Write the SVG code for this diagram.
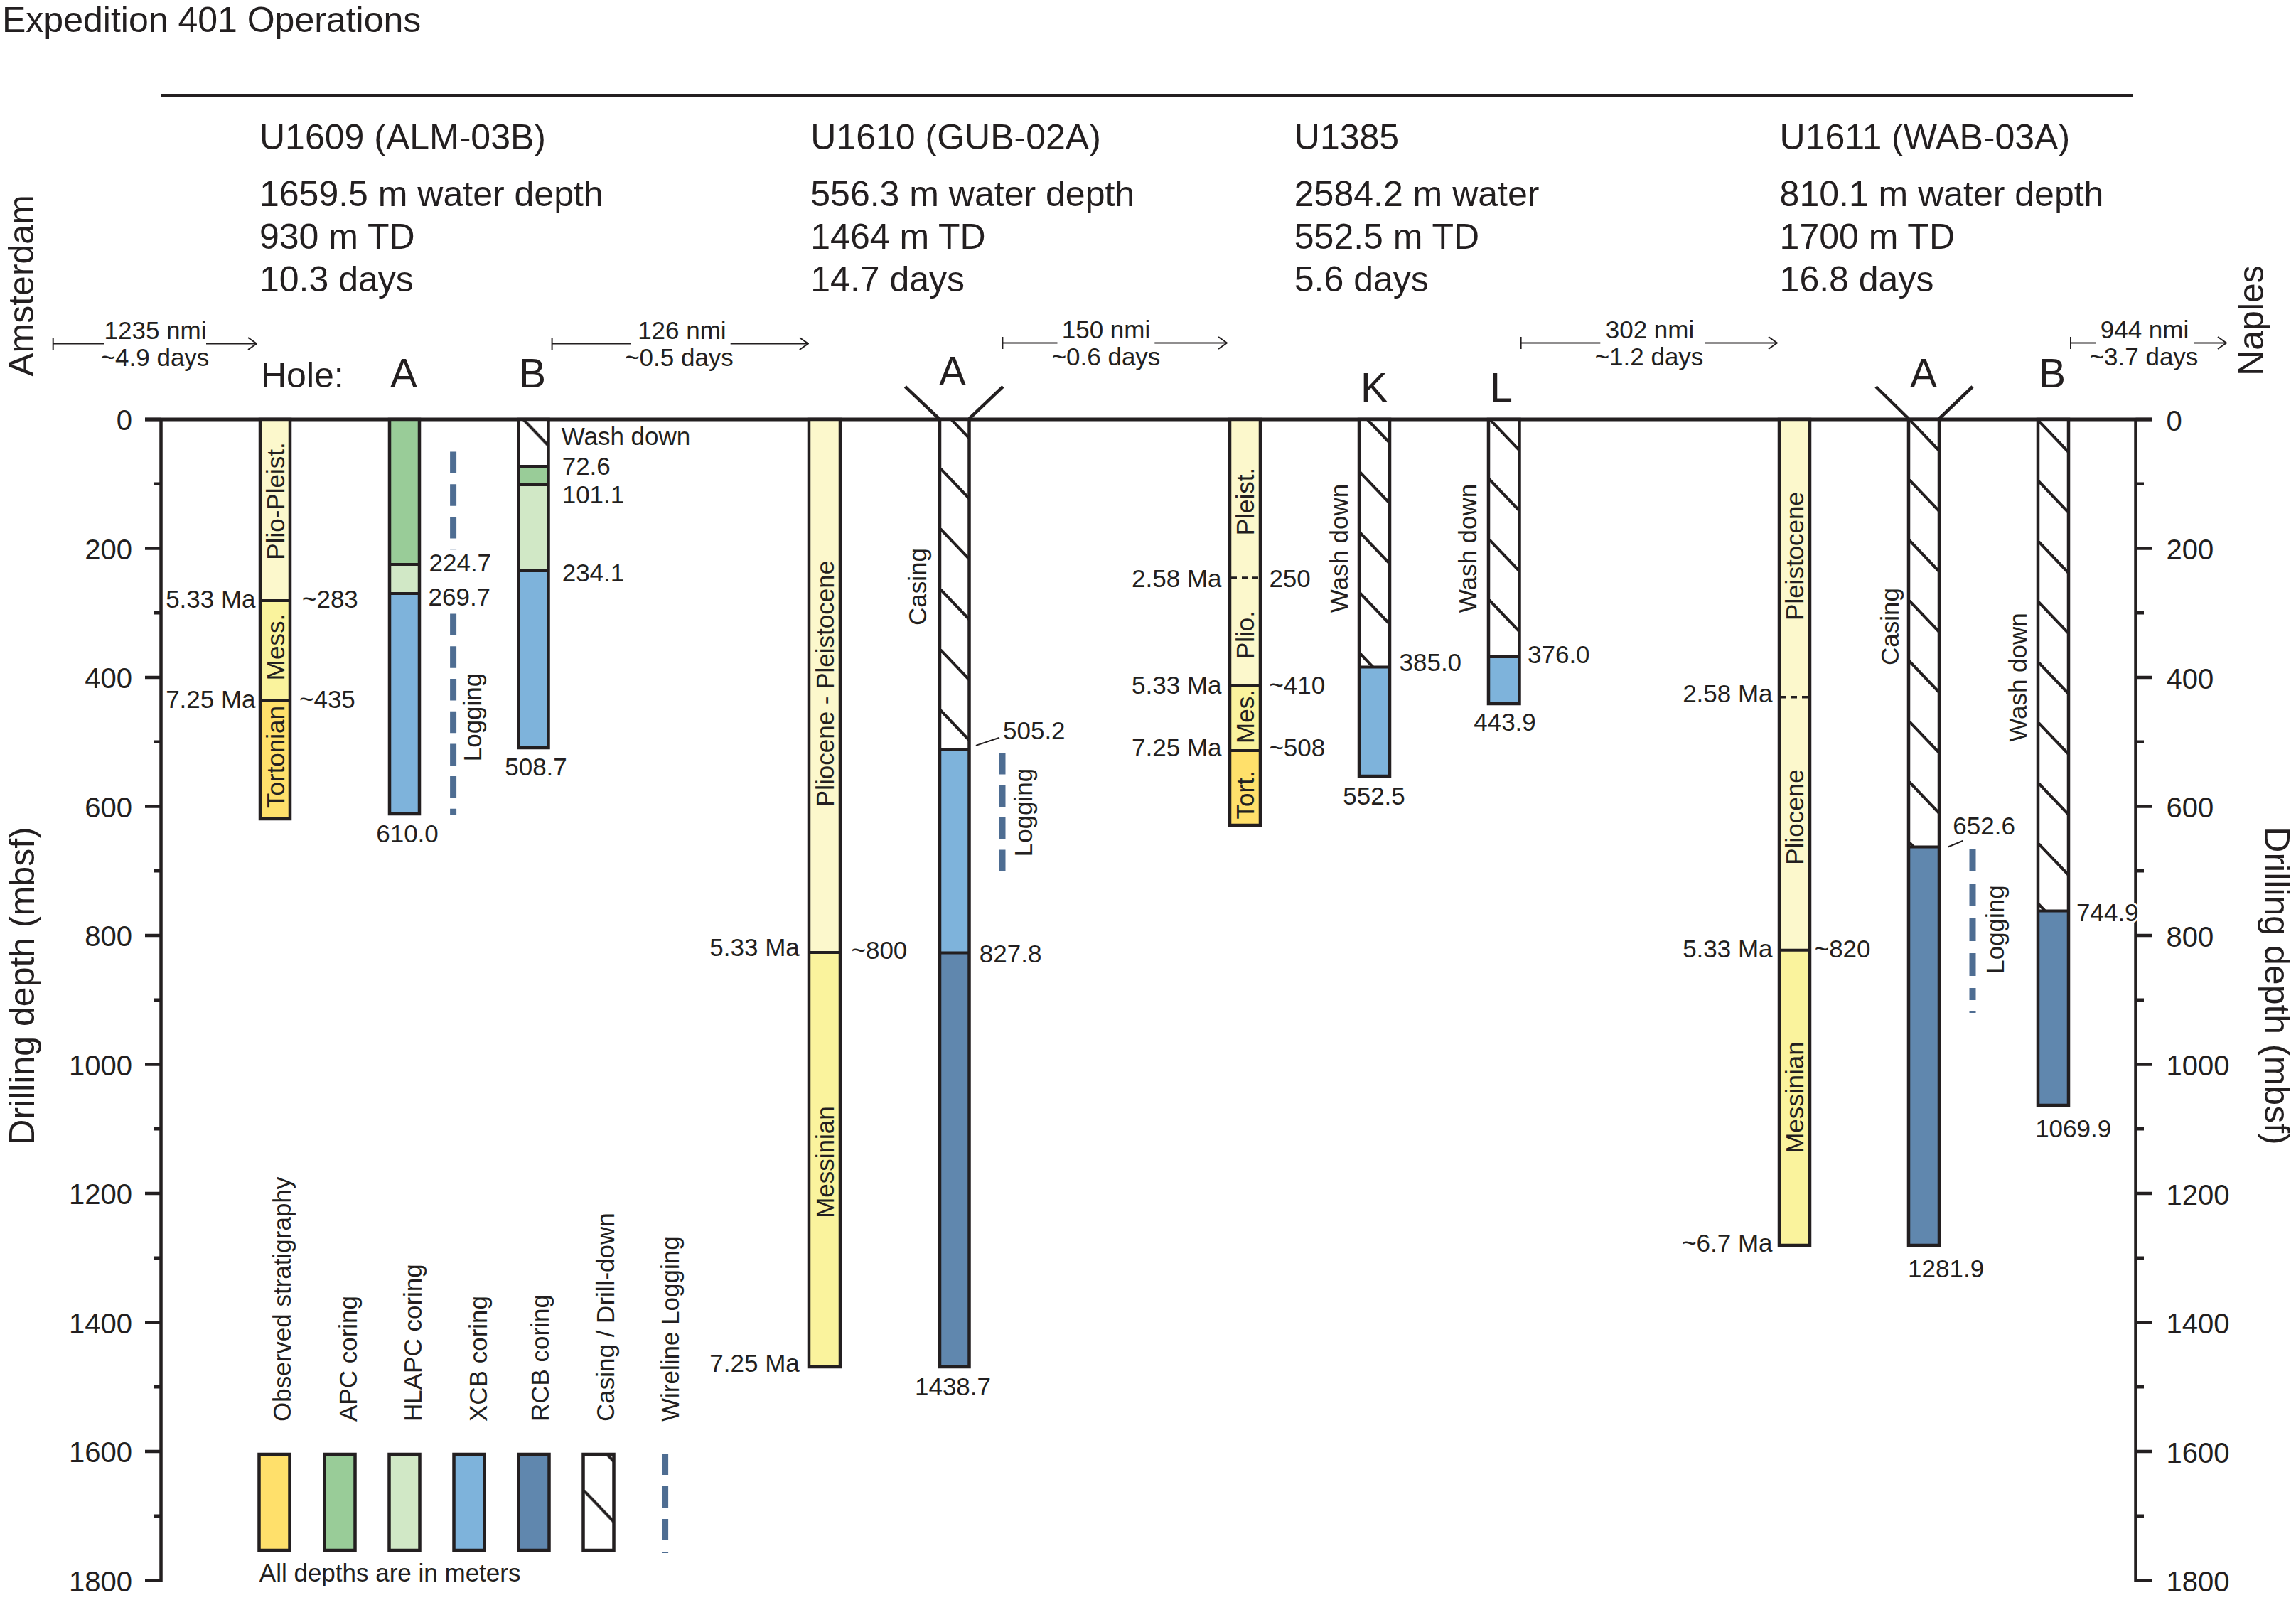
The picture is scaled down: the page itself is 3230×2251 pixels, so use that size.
<svg xmlns="http://www.w3.org/2000/svg" xmlns:xlink="http://www.w3.org/1999/xlink" width="3230" height="2251" viewBox="0 0 3230 2251">
<style>
text{font-family:"Liberation Sans",Arial,Helvetica,sans-serif;fill:#231f20}
.f50{font-size:50px}
.f57{font-size:57px}
.f40{font-size:40px}
.f35{font-size:35px}
.m{text-anchor:middle}
.e{text-anchor:end}
.ln{stroke:#231f20;stroke-width:4.5;fill:none}
.thin{stroke:#231f20;stroke-width:2;fill:none}
.col{stroke:#231f20;stroke-width:4.5;fill:none}
.bd{stroke:#231f20;stroke-width:4}
.dsh{stroke:#231f20;stroke-width:3.5;stroke-dasharray:8 7}
.log{stroke:#4e6d92;stroke-width:9;fill:none}
.pp{fill:#fcf8cc}.me{fill:#faf39d}.to{fill:#ffe06b}.apc{fill:#99cc98}.hl{fill:#d1e8c6}.xcb{fill:#7eb3db}.rcb{fill:#6087ae}
</style>
<defs>
<marker id="arr" markerUnits="userSpaceOnUse" markerWidth="14" markerHeight="20" viewBox="0 0 14 20" refX="13" refY="10" orient="auto"><path d="M1,1.5 L13,10 L1,18.5" fill="none" stroke="#231f20" stroke-width="2"/></marker>
<pattern id="hatch" patternUnits="userSpaceOnUse" width="200" height="85"><rect width="200" height="85" fill="#fff"/><line x1="0" y1="0" x2="43" y2="45" stroke="#231f20" stroke-width="4"/></pattern>
<pattern id="h1" xlink:href="#hatch" x="729.5" y="583"/>
<pattern id="h2" xlink:href="#hatch" x="1322" y="573"/>
<pattern id="h3" xlink:href="#hatch" x="1912" y="578"/>
<pattern id="h4" xlink:href="#hatch" x="2094" y="588"/>
<pattern id="h5" xlink:href="#hatch" x="2685" y="589"/>
<pattern id="h6" xlink:href="#hatch" x="2867" y="591"/>
<pattern id="h7" xlink:href="#hatch" x="820.5" y="2011"/>
</defs>
<rect width="3230" height="2251" fill="#fff"/>

<g id="title"><text class="f50" x="3" y="45">Expedition 401 Operations</text></g>

<g id="frame">
<line class="ln" x1="226" y1="134.5" x2="3001" y2="134.5" style="stroke-width:5"/>
<line class="ln" x1="204" y1="590" x2="3027" y2="590" style="stroke-width:5"/>
</g>

<g id="axis-left">
<line class="ln" x1="226.5" y1="590" x2="226.5" y2="2225"/>
<path class="ln" d="M204,590H226.5M216.5,680.75H226.5M204,771.5H226.5M216.5,862.25H226.5M204,953H226.5M216.5,1043.75H226.5M204,1134.5H226.5M216.5,1225.25H226.5M204,1316H226.5M216.5,1406.75H226.5M204,1497.5H226.5M216.5,1588.25H226.5M204,1679H226.5M216.5,1769.75H226.5M204,1860.5H226.5M216.5,1951.25H226.5M204,2042H226.5M216.5,2132.75H226.5M204,2223.5H226.5"/>
<text class="f40 e" x="186" y="605">0</text>
<text class="f40 e" x="186" y="786.5">200</text>
<text class="f40 e" x="186" y="968">400</text>
<text class="f40 e" x="186" y="1149.5">600</text>
<text class="f40 e" x="186" y="1331">800</text>
<text class="f40 e" x="186" y="1512.5">1000</text>
<text class="f40 e" x="186" y="1694">1200</text>
<text class="f40 e" x="186" y="1875.5">1400</text>
<text class="f40 e" x="186" y="2057">1600</text>
<text class="f40 e" x="186" y="2238.5">1800</text>
<text class="f50 m" transform="translate(48,1387) rotate(-90)">Drilling depth (mbsf)</text>
</g>

<g id="axis-right">
<line class="ln" x1="3004.5" y1="590" x2="3004.5" y2="2225"/>
<path class="ln" d="M3004.5,590H3027M3004.5,680.75H3016M3004.5,771.5H3027M3004.5,862.25H3016M3004.5,953H3027M3004.5,1043.75H3016M3004.5,1134.5H3027M3004.5,1225.25H3016M3004.5,1316H3027M3004.5,1406.75H3016M3004.5,1497.5H3027M3004.5,1588.25H3016M3004.5,1679H3027M3004.5,1769.75H3016M3004.5,1860.5H3027M3004.5,1951.25H3016M3004.5,2042H3027M3004.5,2132.75H3016M3004.5,2223.5H3027"/>
<text class="f40" x="3047.6" y="606">0</text>
<text class="f40" x="3047.6" y="787">200</text>
<text class="f40" x="3047.6" y="968.5">400</text>
<text class="f40" x="3047.6" y="1150">600</text>
<text class="f40" x="3047.6" y="1331.5">800</text>
<text class="f40" x="3047.6" y="1513">1000</text>
<text class="f40" x="3047.6" y="1694.5">1200</text>
<text class="f40" x="3047.6" y="1876">1400</text>
<text class="f40" x="3047.6" y="2057.5">1600</text>
<text class="f40" x="3047.6" y="2239">1800</text>
<text class="f50 m" transform="translate(3186,1387) rotate(90)">Drilling depth (mbsf)</text>
</g>

<g id="ports">
<text class="f50 m" transform="translate(47,402) rotate(-90)">Amsterdam</text>
<text class="f50 m" transform="translate(3184,451) rotate(-90)">Naples</text>
</g>

<g id="connectors">
<path class="thin" d="M74.7,475V492M74.7,483.5H147"/>
<line class="thin" x1="290" y1="483.5" x2="361" y2="483.5" marker-end="url(#arr)"/>
<path class="thin" d="M776.6,475V492M776.6,483.5H887"/>
<line class="thin" x1="1027.7" y1="483.5" x2="1136.8" y2="483.5" marker-end="url(#arr)"/>
<path class="thin" d="M1410.4,474V491M1410.4,482.5H1487.5"/>
<line class="thin" x1="1624.3" y1="482.5" x2="1726" y2="482.5" marker-end="url(#arr)"/>
<path class="thin" d="M2139.6,474V491M2139.6,482.5H2251.3"/>
<line class="thin" x1="2399" y1="482.5" x2="2500" y2="482.5" marker-end="url(#arr)"/>
<path class="thin" d="M2913,474V491M2913,482.5H2949"/>
<line class="thin" x1="3086" y1="482.5" x2="3132" y2="482.5" marker-end="url(#arr)"/>
<text class="f35 m" x="218.5" y="477">1235 nmi</text>
<text class="f35 m" x="218" y="515">~4.9 days</text>
<text class="f35 m" x="959.4" y="477">126 nmi</text>
<text class="f35 m" x="955.5" y="515">~0.5 days</text>
<text class="f35 m" x="1556" y="476">150 nmi</text>
<text class="f35 m" x="1556" y="514">~0.6 days</text>
<text class="f35 m" x="2321" y="476">302 nmi</text>
<text class="f35 m" x="2320" y="514">~1.2 days</text>
<text class="f35 m" x="3017" y="476">944 nmi</text>
<text class="f35 m" x="3016" y="514">~3.7 days</text>
</g>

<g id="site-U1609">
<text class="f50" x="365" y="210">U1609 (ALM-03B)</text>
<text class="f50" x="365" y="290">1659.5 m water depth</text>
<text class="f50" x="365" y="350">930 m TD</text>
<text class="f50" x="365" y="410">10.3 days</text>
<text class="f50" x="367" y="545">Hole:</text>
<text class="f57 m" x="568" y="545">A</text>
<text class="f57 m" x="749" y="545">B</text>
</g>

<g id="U1609-strat">
<rect class="pp" x="366" y="590" width="42" height="255"/>
<rect class="me" x="366" y="845" width="42" height="140"/>
<rect class="to" x="366" y="985" width="42" height="167"/>
<path class="bd" d="M366,845H408M366,985H408"/>
<rect class="col" x="366" y="590" width="42" height="562"/>
<text class="f35 m" transform="translate(399.5,705) rotate(-90)">Plio-Pleist.</text>
<text class="f35 m" transform="translate(399.5,910.5) rotate(-90)">Mess.</text>
<text class="f35 m" transform="translate(399.5,1065) rotate(-90)">Tortonian</text>
<text class="f35 e" x="359.6" y="855">5.33 Ma</text>
<text class="f35" x="425" y="855">~283</text>
<text class="f35 e" x="359.6" y="996">7.25 Ma</text>
<text class="f35" x="421" y="996">~435</text>
</g>

<g id="U1609-A">
<rect class="apc" x="548" y="590" width="42" height="204"/>
<rect class="hl" x="548" y="794" width="42" height="41"/>
<rect class="xcb" x="548" y="835" width="42" height="310"/>
<path class="bd" d="M548,794H590M548,835H590"/>
<rect class="col" x="548" y="590" width="42" height="555"/>
<text class="f35" x="603.5" y="804">224.7</text>
<text class="f35" x="602.5" y="852.3">269.7</text>
<text class="f35 m" x="573" y="1185">610.0</text>
<line class="log" x1="637.6" y1="635.5" x2="637.6" y2="773.3" stroke-dasharray="30.5 15.2"/>
<line class="log" x1="637.6" y1="863.6" x2="637.6" y2="1146.7" stroke-dasharray="30.5 15.2"/>
<text class="f35 m" transform="translate(677,1009) rotate(-90)">Logging</text>
</g>

<g id="U1609-B">
<rect fill="url(#h1)" x="729.5" y="590" width="42" height="66"/>
<rect class="apc" x="729.5" y="656" width="42" height="26"/>
<rect class="hl" x="729.5" y="682" width="42" height="121"/>
<rect class="xcb" x="729.5" y="803" width="42" height="249"/>
<path class="bd" d="M729.5,656H771.5M729.5,682H771.5M729.5,803H771.5"/>
<rect class="col" x="729.5" y="590" width="42" height="462"/>
<text class="f35" x="789.7" y="626.3">Wash down</text>
<text class="f35" x="790.7" y="668">72.6</text>
<text class="f35" x="790.7" y="708">101.1</text>
<text class="f35" x="790.7" y="817.7">234.1</text>
<text class="f35 m" x="754" y="1090.6">508.7</text>
</g>

<g id="site-U1610">
<text class="f50" x="1140.3" y="210">U1610 (GUB-02A)</text>
<text class="f50" x="1140.3" y="290">556.3 m water depth</text>
<text class="f50" x="1140.3" y="350">1464 m TD</text>
<text class="f50" x="1140.3" y="410">14.7 days</text>
<text class="f57 m" x="1340" y="542">A</text>
<path class="ln" d="M1273.4,543.8L1321,589M1411,543.8L1363.5,589"/>
</g>

<g id="U1610-strat">
<rect class="pp" x="1138" y="590" width="44" height="750"/>
<rect class="me" x="1138" y="1340" width="44" height="583"/>
<path class="bd" d="M1138,1340H1182"/>
<rect class="col" x="1138" y="590" width="44" height="1333"/>
<text class="f35 m" transform="translate(1172.5,962) rotate(-90)">Pliocene - Pleistocene</text>
<text class="f35 m" transform="translate(1172.5,1635) rotate(-90)">Messinian</text>
<text class="f35 e" x="1124.8" y="1344.5">5.33 Ma</text>
<text class="f35" x="1197.5" y="1349.4">~800</text>
<text class="f35 e" x="1124.8" y="1929.6">7.25 Ma</text>
</g>

<g id="U1610-A">
<rect fill="url(#h2)" x="1322" y="590" width="41.5" height="464"/>
<rect class="xcb" x="1322" y="1054" width="41.5" height="286.6"/>
<rect class="rcb" x="1322" y="1340.6" width="41.5" height="582.4"/>
<path class="bd" d="M1322,1054H1363.5M1322,1340.6H1363.5"/>
<rect class="col" x="1322" y="590" width="41.5" height="1333"/>
<text class="f35 m" transform="translate(1302.5,825.5) rotate(-90)">Casing</text>
<line class="thin" x1="1372.9" y1="1048.9" x2="1406" y2="1037.7"/>
<text class="f35" x="1411" y="1039.7">505.2</text>
<line class="log" x1="1410" y1="1059" x2="1410" y2="1226" stroke-dasharray="30.5 15"/>
<text class="f35 m" transform="translate(1451.5,1143) rotate(-90)">Logging</text>
<text class="f35" x="1377.8" y="1354">827.8</text>
<text class="f35 m" x="1340.5" y="1962.6">1438.7</text>
</g>

<g id="site-U1385">
<text class="f50" x="1820.8" y="210">U1385</text>
<text class="f50" x="1820.8" y="290">2584.2 m water</text>
<text class="f50" x="1820.8" y="350">552.5 m TD</text>
<text class="f50" x="1820.8" y="410">5.6 days</text>
<text class="f57 m" x="1933" y="565">K</text>
<text class="f57 m" x="2112" y="565">L</text>
</g>

<g id="U1385-strat">
<rect class="pp" x="1730" y="590" width="43" height="374.5"/>
<rect class="me" x="1730" y="964.5" width="43" height="91.5"/>
<rect class="to" x="1730" y="1056" width="43" height="105"/>
<path class="bd" d="M1730,964.5H1773M1730,1056H1773"/>
<line class="dsh" x1="1732" y1="813" x2="1772" y2="813"/>
<rect class="col" x="1730" y="590" width="43" height="571"/>
<text class="f35 m" transform="translate(1764,705.5) rotate(-90)">Pleist.</text>
<text class="f35 m" transform="translate(1764,893) rotate(-90)">Plio.</text>
<text class="f35 m" transform="translate(1764,1008) rotate(-90)">Mes.</text>
<text class="f35 m" transform="translate(1764,1118.5) rotate(-90)">Tort.</text>
<text class="f35 e" x="1718.5" y="826">2.58 Ma</text>
<text class="f35" x="1785.4" y="826">250</text>
<text class="f35 e" x="1718.5" y="975.5">5.33 Ma</text>
<text class="f35" x="1785.4" y="975.5">~410</text>
<text class="f35 e" x="1718.5" y="1064">7.25 Ma</text>
<text class="f35" x="1785.4" y="1064">~508</text>
</g>

<g id="U1385-K">
<rect fill="url(#h3)" x="1912" y="590" width="43" height="348.5"/>
<rect class="xcb" x="1912" y="938.5" width="43" height="153.5"/>
<path class="bd" d="M1912,938.5H1955"/>
<rect class="col" x="1912" y="590" width="43" height="502"/>
<text class="f35 m" transform="translate(1896,771.5) rotate(-90)">Wash down</text>
<text class="f35" x="1968.5" y="944">385.0</text>
<text class="f35 m" x="1933" y="1131.8">552.5</text>
</g>

<g id="U1385-L">
<rect fill="url(#h4)" x="2094" y="590" width="43.5" height="334"/>
<rect class="xcb" x="2094" y="924" width="43.5" height="66"/>
<path class="bd" d="M2094,924H2137.5"/>
<rect class="col" x="2094" y="590" width="43.5" height="400"/>
<text class="f35 m" transform="translate(2077,771.5) rotate(-90)">Wash down</text>
<text class="f35" x="2149" y="933">376.0</text>
<text class="f35 m" x="2117" y="1028">443.9</text>
</g>

<g id="site-U1611">
<text class="f50" x="2503.6" y="210">U1611 (WAB-03A)</text>
<text class="f50" x="2503.6" y="290">810.1 m water depth</text>
<text class="f50" x="2503.6" y="350">1700 m TD</text>
<text class="f50" x="2503.6" y="410">16.8 days</text>
<text class="f57 m" x="2706" y="545">A</text>
<text class="f57 m" x="2887" y="545">B</text>
<path class="ln" d="M2639,544L2685,589M2775,544L2728,589"/>
</g>

<g id="U1611-strat">
<rect class="pp" x="2503" y="590" width="43" height="746.7"/>
<rect class="me" x="2503" y="1336.7" width="43" height="415.3"/>
<path class="bd" d="M2503,1336.7H2546"/>
<line class="dsh" x1="2505" y1="980.8" x2="2545" y2="980.8"/>
<rect class="col" x="2503" y="590" width="43" height="1162"/>
<text class="f35 m" transform="translate(2537,782.5) rotate(-90)">Pleistocene</text>
<text class="f35 m" transform="translate(2537,1149.5) rotate(-90)">Pliocene</text>
<text class="f35 m" transform="translate(2537,1544) rotate(-90)">Messinian</text>
<text class="f35 e" x="2493.6" y="987.7">2.58 Ma</text>
<text class="f35 e" x="2493.6" y="1346.5">5.33 Ma</text>
<text class="f35" x="2552.7" y="1346.5">~820</text>
<text class="f35 e" x="2493.6" y="1760.8">~6.7 Ma</text>
</g>

<g id="U1611-A">
<rect fill="url(#h5)" x="2685" y="590" width="43" height="601.5"/>
<rect class="rcb" x="2685" y="1191.5" width="43" height="560.5"/>
<path class="bd" d="M2685,1191.5H2728"/>
<rect class="col" x="2685" y="590" width="43" height="1162"/>
<text class="f35 m" transform="translate(2670.5,881.5) rotate(-90)">Casing</text>
<line class="thin" x1="2740.5" y1="1191.5" x2="2761.7" y2="1182.8"/>
<text class="f35" x="2747.3" y="1174">652.6</text>
<line class="log" x1="2775" y1="1194" x2="2775" y2="1426" stroke-dasharray="32 17 32 17 32 17 32 17 17 15 3 50"/>
<text class="f35 m" transform="translate(2819,1307.5) rotate(-90)">Logging</text>
<text class="f35 m" x="2737.6" y="1797">1281.9</text>
</g>

<g id="U1611-B">
<rect fill="url(#h6)" x="2867" y="590" width="43" height="691.6"/>
<rect class="rcb" x="2867" y="1281.6" width="43" height="273.4"/>
<path class="bd" d="M2867,1281.6H2910"/>
<rect class="col" x="2867" y="590" width="43" height="965"/>
<text class="f35 m" transform="translate(2850.5,953) rotate(-90)">Wash down</text>
<text class="f35" x="2921" y="1296" style="paint-order:stroke;stroke:#fff;stroke-width:5px">744.9</text>
<text class="f35 m" x="2916.7" y="1599.7">1069.9</text>
</g>

<g id="legend">
<rect class="to" x="364.5" y="2046" width="43" height="135"/>
<rect class="apc" x="456.5" y="2046" width="43" height="135"/>
<rect class="hl" x="547.5" y="2046" width="43" height="135"/>
<rect class="xcb" x="638.5" y="2046" width="43" height="135"/>
<rect class="rcb" x="729.5" y="2046" width="43" height="135"/>
<rect fill="url(#h7)" x="820.5" y="2046" width="43" height="135"/>
<g class="col">
<rect x="364.5" y="2046" width="43" height="135"/>
<rect x="456.5" y="2046" width="43" height="135"/>
<rect x="547.5" y="2046" width="43" height="135"/>
<rect x="638.5" y="2046" width="43" height="135"/>
<rect x="729.5" y="2046" width="43" height="135"/>
<rect x="820.5" y="2046" width="43" height="135"/>
</g>
<line class="log" x1="935.6" y1="2045" x2="935.6" y2="2185" stroke-dasharray="30 16"/>
<text class="f35" transform="translate(409,2000) rotate(-90)">Observed stratigraphy</text>
<text class="f35" transform="translate(502,2000) rotate(-90)">APC coring</text>
<text class="f35" transform="translate(593,2000) rotate(-90)">HLAPC coring</text>
<text class="f35" transform="translate(685,2000) rotate(-90)">XCB coring</text>
<text class="f35" transform="translate(771.5,2000) rotate(-90)">RCB coring</text>
<text class="f35" transform="translate(864,2000) rotate(-90)">Casing / Drill-down</text>
<text class="f35" transform="translate(955,2000) rotate(-90)">Wireline Logging</text>
<text class="f35" x="364.8" y="2224.7">All depths are in meters</text>
</g>
</svg>
